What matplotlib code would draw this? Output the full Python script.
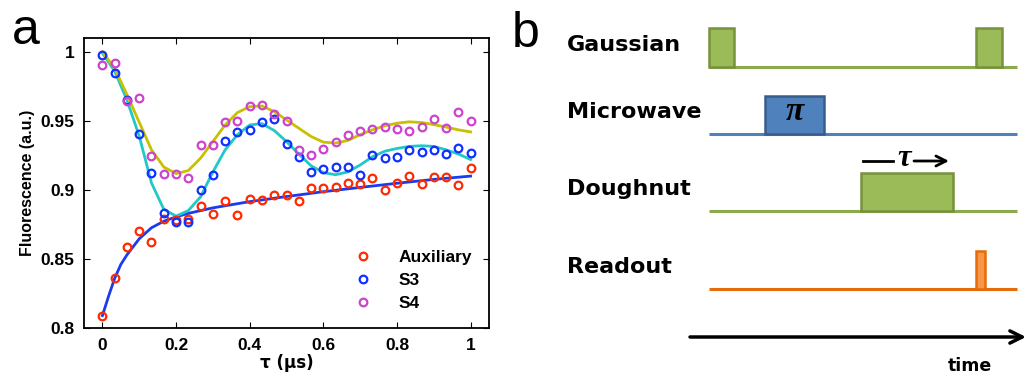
import matplotlib
matplotlib.use("Agg")
import matplotlib.pyplot as plt
from matplotlib.patches import Rectangle

# ---- panel a data ----
tau = [0.0, 0.0333, 0.0667, 0.1, 0.1333, 0.1667, 0.2, 0.2333, 0.2667, 0.3,
       0.3333, 0.3667, 0.4, 0.4333, 0.4667, 0.5, 0.5333, 0.5667, 0.6, 0.6333,
       0.6667, 0.7, 0.7333, 0.7667, 0.8, 0.8333, 0.8667, 0.9, 0.9333, 0.9667, 1.0]

aux = [0.809, 0.836, 0.859, 0.870, 0.8625, 0.8786, 0.878, 0.8786, 0.8887, 0.8822,
       0.8923, 0.882, 0.8932, 0.8928, 0.8961, 0.8966, 0.8923, 0.9017, 0.9017, 0.9019,
       0.905, 0.904, 0.9084, 0.9002, 0.905, 0.9098, 0.9043, 0.9091, 0.9094, 0.9036, 0.9159]
s3 = [0.998, 0.985, 0.965, 0.9406, 0.912, 0.8836, 0.8766, 0.8766, 0.9002, 0.911,
      0.9353, 0.9421, 0.9435, 0.9495, 0.9512, 0.9334, 0.9238, 0.9127, 0.9151, 0.9163,
      0.9163, 0.911, 0.9255, 0.923, 0.924, 0.9286, 0.9276, 0.9289, 0.926, 0.9303, 0.9267]
s4 = [0.9906, 0.992, 0.9646, 0.9664, 0.9247, 0.9118, 0.9113, 0.9089, 0.9327, 0.9322,
      0.949, 0.9502, 0.9608, 0.9615, 0.955, 0.9498, 0.929, 0.925, 0.9298, 0.9346,
      0.9399, 0.9426, 0.9442, 0.9459, 0.944, 0.943, 0.9457, 0.9512, 0.9447, 0.9563, 0.9502]

# fitted curves
tau_aux_fit = [0.0, 0.0167, 0.0333, 0.05, 0.0667, 0.1, 0.1333, 0.1667, 0.2, 0.2333,
               0.2667, 0.3, 0.3333, 0.3667, 0.4, 0.5, 0.6, 0.7, 0.8, 0.9, 1.0]
aux_fit = [0.809, 0.823, 0.836, 0.846, 0.853, 0.8646, 0.8726, 0.8773, 0.8805, 0.883,
           0.885, 0.887, 0.8885, 0.890, 0.8915, 0.8952, 0.8987, 0.9018, 0.9048, 0.9076, 0.910]
s3_fit = [0.999, 0.986, 0.965, 0.939, 0.905, 0.886, 0.881, 0.885, 0.895, 0.913,
          0.929, 0.940, 0.947, 0.948, 0.943, 0.935, 0.926, 0.9175, 0.9125, 0.911,
          0.913, 0.918, 0.924, 0.928, 0.930, 0.9315, 0.932, 0.9315, 0.929, 0.926, 0.922]
s4_fit = [1.0, 0.988, 0.969, 0.949, 0.929, 0.9166, 0.9118, 0.914, 0.923, 0.935,
          0.947, 0.956, 0.9603, 0.9608, 0.9567, 0.9507, 0.9447, 0.9387, 0.9346, 0.9339,
          0.9358, 0.940, 0.9435, 0.9464, 0.9483, 0.9493, 0.9488, 0.9473, 0.9455, 0.9435, 0.942]

xticks = [0, 0.2, 0.4, 0.6, 0.8, 1]
xtick_labels = ["0", "0.2", "0.4", "0.6", "0.8", "1"]
yticks = [0.8, 0.85, 0.9, 0.95, 1.0]
ytick_labels = ["0.8", "0.85", "0.9", "0.95", "1"]

# ---- panel b data (pixel layout of the timing diagram) ----
channels = ["Gaussian", "Microwave", "Doughnut", "Readout"]
baselines = [66.7, 134, 210.7, 289]
pulse_tops = [28, 96, 173, 251]
pulses = [[(709, 734), (976, 1002)], [(765, 824)], [(861, 953)], [(976, 985)]]
fills = ["#9bbb59", "#4f81bd", "#9bbb59", "#f79646"]
edges = ["#76923c", "#385d8a", "#76923c", "#e46c0a"]
line_colors = ["#8aab4c", "#4f81bd", "#8aab4c", "#e46c0a"]

W, H = 1029, 381
fig = plt.figure(figsize=(W / 100, H / 100), dpi=100)

# ---------------- panel a ----------------
ax = fig.add_axes([84 / W, 1 - 328 / H, 405 / W, 290 / H])
ax.plot(tau_aux_fit, aux_fit, color="#1a3cf0", lw=2.0, zorder=2)
ax.plot(tau, s3_fit, color="#22c8c8", lw=2.0, zorder=2)
ax.plot(tau, s4_fit, color="#c8c000", lw=2.0, zorder=2)
mk = dict(ls="none", marker="o", mfc="none", ms=5.5, mew=1.6, zorder=3)
ax.plot(tau, aux, color="#ff2a00", label="Auxiliary", **mk)
ax.plot(tau, s3, color="#1030ff", label="S3", **mk)
ax.plot(tau, s4, color="#cc44cc", label="S4", **mk)

ax.set_xlim(-0.05, 1.05)
ax.set_ylim(0.8, 1.01)
ax.set_xticks(xticks)
ax.set_xticklabels(xtick_labels)
ax.set_yticks(yticks)
ax.set_yticklabels(ytick_labels)
ax.tick_params(direction="in", top=True, right=True, length=4, width=0.8,
               labelsize=12.5, pad=7)
for lab in ax.get_xticklabels() + ax.get_yticklabels():
    lab.set_fontweight("bold")
    lab.set_family("Liberation Sans")
for sp in ax.spines.values():
    sp.set_linewidth(1.3)
ax.set_ylabel("Fluorescence (a.u.)", fontsize=11.5, fontweight="bold",
              family="Liberation Sans", labelpad=4)
ax.set_xlabel("τ (μs)", fontsize=12, fontweight="bold", family="DejaVu Sans",
              labelpad=1)
ax.legend(loc="lower right", frameon=False, handlelength=0.8, handletextpad=1.6,
          labelspacing=0.45, borderaxespad=0.6,
          prop={"family": "Liberation Sans", "weight": "bold", "size": 12.5})

fig.text(12 / W, 1 - 44 / H, "a", fontsize=36, family="Liberation Sans", va="baseline")
fig.text(512 / W, 1 - 47 / H, "b", fontsize=36, family="Liberation Sans", va="baseline")

# ---------------- panel b ----------------
bx = fig.add_axes([0, 0, 1, 1], zorder=-1)
bx.set_xlim(0, W)
bx.set_ylim(H, 0)
bx.axis("off")

for name, y0, yt, ps, fc, ec, lc in zip(channels, baselines, pulse_tops, pulses,
                                        fills, edges, line_colors):
    bx.plot([709, 1017], [y0, y0], color=lc, lw=2.2, solid_capstyle="butt")
    for x0, x1 in ps:
        bx.add_patch(Rectangle((x0, yt), x1 - x0, y0 - yt, facecolor=fc,
                               edgecolor=ec, lw=1.8, zorder=3))
    bx.text(567, y0 - 22, name, fontsize=16, fontweight="bold",
            family="DejaVu Sans", va="center", ha="left")

bx.text(795, 111, "π", fontsize=24, fontweight="bold", style="italic",
        family="Liberation Serif", ha="center", va="center", zorder=4)

# tau arrow above doughnut pulse
bx.plot([863, 893], [161, 161], color="black", lw=2)
bx.text(904, 158, "τ", fontsize=22, fontweight="bold", style="italic",
        family="Liberation Serif", ha="center", va="center")
bx.annotate("", xy=(949, 161), xytext=(914, 161),
            arrowprops=dict(arrowstyle="->", lw=2, color="black",
                            mutation_scale=18, shrinkA=0, shrinkB=0))

# time axis
bx.annotate("", xy=(1026, 337), xytext=(690, 337),
            arrowprops=dict(arrowstyle="->", lw=2.5, color="black",
                            mutation_scale=22, shrinkA=0, shrinkB=0))
bx.text(970, 366, "time", fontsize=12.5, fontweight="bold",
        family="DejaVu Sans", ha="center", va="center")

fig.savefig("out.png", dpi=100)
